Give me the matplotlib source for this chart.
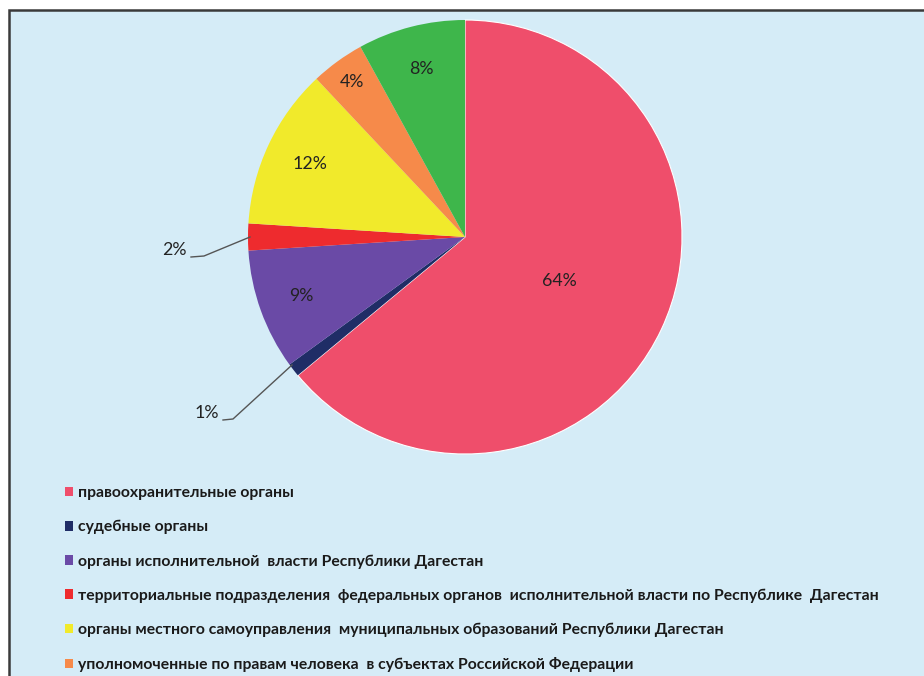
import matplotlib
matplotlib.use("Agg")
import matplotlib.pyplot as plt
from matplotlib.patches import Rectangle, Patch
import numpy as np

categories = [
    "правоохранительные органы",
    "судебные органы",
    "органы исполнительной  власти Республики Дагестан",
    "территориальные подразделения  федеральных органов  исполнительной власти по Республике  Дагестан",
    "органы местного самоуправления  муниципальных образований Республики Дагестан",
    "уполномоченные по правам человека  в субъектах Российской Федерации",
]
values = [64, 1, 9, 2, 12, 4, 8]
colors = ["#ef4e6b", "#1f2d66", "#6a4aa6", "#ee2b2e", "#f1ea2b", "#f68a4a", "#3eb64b"]

W, H = 924, 676
fig = plt.figure(figsize=(W / 100, H / 100), dpi=100, facecolor="white")

# frame background
fig.patches.append(Rectangle((9 / W, -0.1), 1.2, (H - 10) / H + 0.1,
                             transform=fig.transFigure, facecolor="#d5ecf7",
                             edgecolor="#3a3a3a", linewidth=1.8, zorder=-5))

ax = fig.add_axes([0, 0, 1, 1], zorder=2)
ax.patch.set_visible(False)

cx, cy, R = 465, H - 237, 217
explode = [0.014, 0, 0, 0, 0, 0, 0]
wedges, texts, autotexts = ax.pie(
    values, colors=colors, startangle=90, counterclock=False,
    center=(cx, cy), radius=R, explode=explode,
    autopct="%d%%", pctdistance=0.8,
    wedgeprops=dict(linewidth=0), frame=True,
    textprops=dict(fontsize=12.8, color="#222222", family="Lato"),
)
wedges[0].set_edgecolor("white")
wedges[0].set_linewidth(0.8)
ax.set_xlim(0, W)
ax.set_ylim(0, H)
ax.set_aspect("equal")
ax.axis("off")

# inner label adjustments
autotexts[0].set_position((cx + 0.48 * R * np.cos(np.radians(-25.2)),
                           cy + 0.48 * R * np.sin(np.radians(-25.2))))
autotexts[4].set_position((cx + 0.79 * R * np.cos(np.radians(154.8)),
                           cy + 0.79 * R * np.sin(np.radians(154.8))))
autotexts[5].set_position((cx + 0.885 * R * np.cos(np.radians(126)),
                           cy + 0.885 * R * np.sin(np.radians(126))))

# outside labels with leader lines for small slices
autotexts[1].set_visible(False)
autotexts[3].set_visible(False)
tprops = dict(fontsize=12.8, color="#222222", family="Lato")
ax.text(207, H - 413, f"{values[1]}%", ha="center", va="center", **tprops)
ax.plot([223, 233, 292], [H - 420, H - 419, H - 365], color="#555555", lw=1)
ax.text(174, H - 250, f"{values[3]}%", ha="center", va="center", **tprops)
ax.plot([191, 204, 250], [H - 257, H - 256, H - 237], color="#555555", lw=1)

handles = [Patch(facecolor=c, edgecolor="none") for c in colors[:len(categories)]]
leg = fig.legend(handles, categories, loc="upper left",
                 bbox_to_anchor=(51 / W, 1 - 472 / H), frameon=False,
                 handlelength=0.5, handleheight=0.55, handletextpad=0.3,
                 labelspacing=1.26,
                 prop=dict(family=["Lato", "DejaVu Sans"],
                           weight="bold", size=11.35))
for t in leg.get_texts():
    t.set_color("#1a1a1a")

fig.savefig("out.png", dpi=100, facecolor="white")
